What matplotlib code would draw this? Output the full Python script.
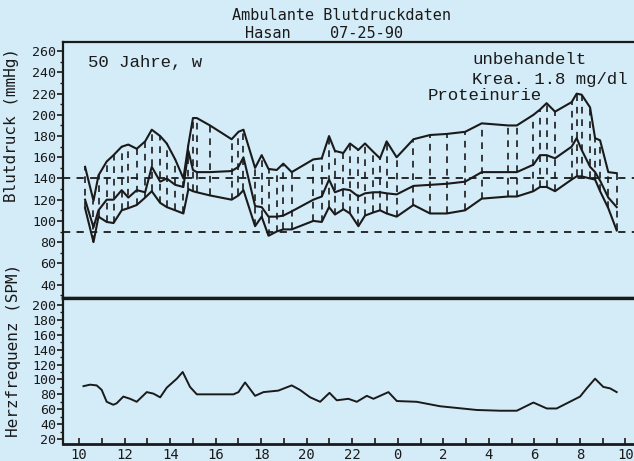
import numpy as np
import matplotlib.pyplot as plt
import matplotlib.ticker as mticker

# Messzeitpunkte (Stunden ab Mitternacht des ersten Tages)
t_bp = [10.26, 10.63, 10.85, 11.21, 11.51, 11.87, 12.16, 12.53, 12.90, 13.19,
        13.56, 13.85, 14.22, 14.58, 14.80, 15.00, 15.17, 15.75, 16.70, 17.00,
        17.22, 17.73, 18.02, 18.32, 18.68, 18.97, 19.34, 20.29, 20.66, 20.98,
        21.24, 21.61, 21.90, 22.27, 22.56, 22.93, 23.22, 23.51, 23.95, 24.69,
        25.42, 26.15, 26.96, 27.69, 28.86, 29.23, 29.96, 30.25, 30.54, 30.91,
        31.64, 31.86, 32.08, 32.45, 32.67, 32.89, 33.25, 33.62]
systole = [151, 119, 143, 156, 162, 170, 172, 168, 175, 186,
           180, 173, 158, 140, 172, 197, 197, 190, 177, 184,
           186, 150, 162, 149, 148, 154, 146, 158, 159, 180,
           166, 164, 173, 167, 173, 165, 159, 175, 160, 177,
           181, 182, 184, 192, 190, 190, 200, 205, 211, 203,
           212, 220, 219, 207, 178, 176, 146, 145]
mittel = [120, 94, 110, 120, 120, 129, 122, 129, 127, 151,
          137, 140, 134, 132, 166, 148, 146, 146, 147, 151,
          160, 114, 113, 104, 104, 105, 109, 120, 123, 139,
          127, 130, 129, 123, 126, 127, 127, 126, 125, 133,
          134, 135, 137, 146, 146, 146, 153, 162, 162, 159,
          170, 178, 167, 151, 146, 138, 122, 113]
diastole = [112, 80, 104, 99, 98, 110, 112, 115, 122, 128,
            117, 113, 110, 107, 130, 128, 127, 124, 120, 124,
            129, 95, 104, 86, 90, 92, 92, 100, 99, 113,
            106, 111, 107, 95, 105, 108, 110, 107, 104, 115,
            107, 107, 110, 121, 123, 123, 128, 132, 132, 128,
            139, 142, 142, 140, 139, 128, 112, 91]

t_hf = [10.19, 10.48, 10.77, 10.99, 11.21, 11.50, 11.65, 11.94, 12.24, 12.53,
        12.97, 13.26, 13.56, 13.85, 14.29, 14.55, 14.87, 15.17, 16.78, 17.00,
        17.29, 17.73, 18.10, 18.75, 19.34, 19.70, 20.15, 20.59, 21.00, 21.32,
        21.83, 22.20, 22.64, 22.93, 23.59, 23.96, 24.83, 25.86, 27.47, 28.49,
        29.23, 29.96, 30.55, 30.98, 32.01, 32.30, 32.67, 33.03, 33.33, 33.62]
herzfrequenz = [91, 93, 92, 86, 70, 66, 68, 77, 74, 70,
                83, 81, 76, 89, 101, 110, 90, 80, 80, 83,
                96, 78, 83, 85, 92, 86, 76, 70, 82, 72,
                74, 70, 78, 74, 83, 71, 70, 64, 59, 58,
                58, 69, 61, 61, 77, 88, 101, 90, 88, 83]

grenzen = [140, 90]
stunden = list(range(10, 35, 2))
stunden_labels = [str(h % 24) for h in stunden]

bg = "#d4ecf8"
ink = "#1a1a1a"
W, H = 634, 461

fig = plt.figure(figsize=(W / 100, H / 100), dpi=100)
fig.patch.set_facecolor(bg)

ax1 = fig.add_axes([63 / W, (H - 298) / H, 1 - 63 / W, (298 - 42) / H])
ax2 = fig.add_axes([63 / W, (H - 444) / H, 1 - 63 / W, (444 - 298) / H])

xlim = (9.29, 34.38)

# Blutdruck
ax1.set_facecolor(bg)
ax1.vlines(t_bp, diastole, systole, colors=ink, linewidth=1.2, linestyles=(0, (4, 3.5)))
ax1.plot(t_bp, systole, color=ink, lw=1.5)
ax1.plot(t_bp, mittel, color=ink, lw=1.5)
ax1.plot(t_bp, diastole, color=ink, lw=1.5)
for g in grenzen:
    ax1.axhline(g, color=ink, lw=1.3, linestyle=(0, (4, 3.5)))
ax1.set_xlim(*xlim)
ax1.set_ylim(27.3, 268.7)
ax1.set_yticks(range(40, 261, 20))
ax1.yaxis.set_minor_locator(mticker.MultipleLocator(10))
ax1.set_xticks([])

# Herzfrequenz
ax2.set_facecolor(bg)
ax2.plot(t_hf, herzfrequenz, color=ink, lw=1.4)
ax2.set_xlim(*xlim)
ax2.set_ylim(13.3, 209.4)
ax2.set_yticks(range(20, 201, 20))
ax2.yaxis.set_minor_locator(mticker.MultipleLocator(10))
ax2.set_xticks(stunden)
ax2.set_xticklabels(stunden_labels)
ax2.xaxis.set_minor_locator(mticker.FixedLocator(np.arange(11, 34, 2)))

for ax in (ax1, ax2):
    ax.spines["right"].set_visible(False)
    for s in ax.spines.values():
        s.set_color(ink)
    ax.spines["left"].set_linewidth(1.6)
    ax.tick_params(axis="y", which="major", direction="out", length=4, width=1.2,
                   labelsize=9.5, pad=1, colors=ink)
    ax.tick_params(axis="y", which="minor", direction="out", length=2, width=1, colors=ink)
    for lab in ax.get_yticklabels():
        lab.set_family("DejaVu Sans Mono")

ax1.spines["top"].set_linewidth(1.6)
ax1.spines["bottom"].set_linewidth(2.4)
ax2.spines["top"].set_linewidth(2.4)
ax2.spines["bottom"].set_linewidth(2.0)
ax2.tick_params(axis="x", which="both", direction="in", length=4, width=1.2,
                labelsize=10, pad=3, colors=ink)
for lab in ax2.get_xticklabels():
    lab.set_family("DejaVu Sans Mono")


def px(x, y):
    return x / W, 1 - y / H


mono = "DejaVu Sans Mono"
fig.text(*px(342, 16), "Ambulante Blutdruckdaten", family=mono, fontsize=11,
         ha="center", va="center", color=ink)
fig.text(*px(268, 34), "Hasan", family=mono, fontsize=11, ha="center", va="center", color=ink)
fig.text(*px(367, 34), "07-25-90", family=mono, fontsize=11, ha="center", va="center", color=ink)

fig.text(*px(12, 125), "Blutdruck (mmHg)", family=mono, fontsize=11.5,
         rotation=90, ha="center", va="center", color=ink)
fig.text(*px(14, 350), "Herzfrequenz (SPM)", family=mono, fontsize=11.5,
         rotation=90, ha="center", va="center", color=ink)

courier = "Liberation Mono"
fig.text(*px(88, 63), "50 Jahre, w", family=courier, fontsize=12.5, ha="left", va="center", color=ink)
fig.text(*px(472, 59), "unbehandelt", family=courier, fontsize=12.5, ha="left", va="center", color=ink)
fig.text(*px(472, 79), "Krea. 1.8 mg/dl", family=courier, fontsize=12.5, ha="left", va="center", color=ink)
fig.text(*px(428, 96), "Proteinurie", family=courier, fontsize=12.5, ha="left", va="center", color=ink)

fig.savefig("out.png", dpi=100, facecolor=bg)
